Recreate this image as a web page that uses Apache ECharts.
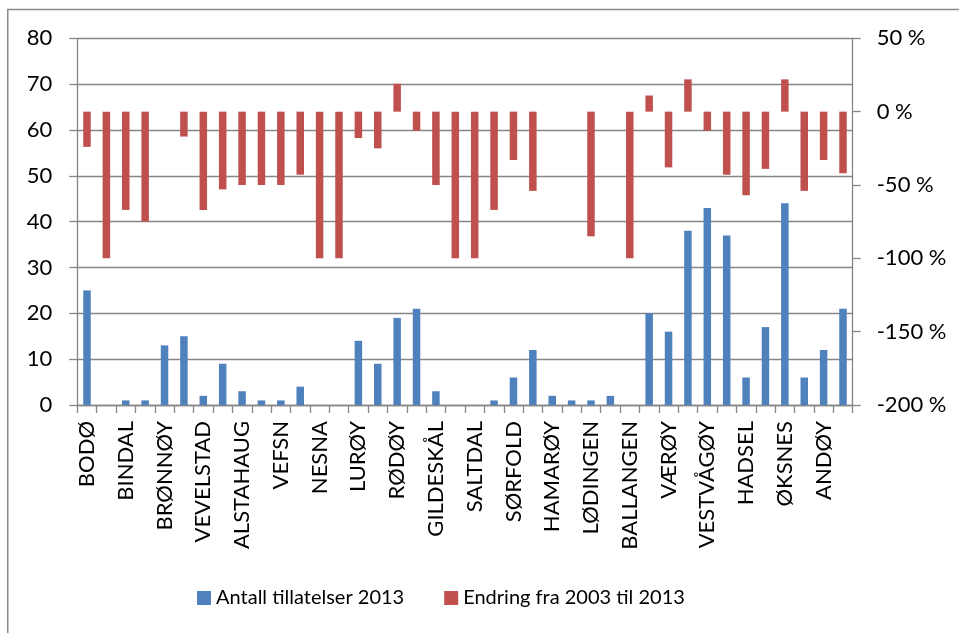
<!DOCTYPE html>
<html>
<head>
<meta charset="utf-8">
<script src="https://cdn.jsdelivr.net/npm/echarts@6/dist/echarts.min.js"></script>
<style>
  html, body { margin: 0; padding: 0; background: #fff; }
  #chart { width: 959px; height: 633px; }
</style>
</head>
<body>
<div id="chart"></div>
<script>
// Municipalities (every other name is shown on the axis)
const kommuner = [
  'BODØ', 'NARVIK', 'BINDAL', 'SØMNA', 'BRØNNØY', 'VEGA', 'VEVELSTAD', 'HERØY',
  'ALSTAHAUG', 'LEIRFJORD', 'VEFSN', 'DØNNA', 'NESNA', 'HEMNES', 'LURØY', 'TRÆNA',
  'RØDØY', 'MELØY', 'GILDESKÅL', 'BEIARN', 'SALTDAL', 'FAUSKE', 'SØRFOLD', 'STEIGEN',
  'HAMARØY', 'TYSFJORD', 'LØDINGEN', 'TJELDSUND', 'BALLANGEN', 'RØST', 'VÆRØY', 'FLAKSTAD',
  'VESTVÅGØY', 'VÅGAN', 'HADSEL', 'BØ', 'ØKSNES', 'SORTLAND', 'ANDØY', 'MOSKENES'
];

// Number of permits in 2013 (left axis)
const tillatelser2013 = [
  25, 0, 1, 1, 13, 15, 2, 9,
  3, 1, 1, 4, 0, 0, 14, 9,
  19, 21, 3, 0, 0, 1, 6, 12,
  2, 1, 1, 2, 0, 20, 16, 38,
  43, 37, 6, 17, 44, 6, 12, 21
];

// Change from 2003 to 2013 in percent (right axis)
const endring = [
  -24, -100, -67, -75, 0, -17, -67, -53,
  -50, -50, -50, -43, -100, -100, -18, -25,
  19, -13, -50, -100, -100, -67, -33, -54,
  0, 0, -85, 0, -100, 11, -38, 22,
  -13, -43, -57, -39, 22, -54, -33, -42
];

// Axis scales
const leftAxis = { min: 0, max: 80, step: 10 };
const rightAxis = { min: -200, max: 50, step: 50 };

const seriesNames = ['Antall tillatelser 2013', 'Endring fra 2003 til 2013'];

const FONT = 'Lato';
const AXIS_GREY = '#868686';

const chart = echarts.init(document.getElementById('chart'), null, { renderer: 'canvas' });

chart.setOption({
  animation: false,
  backgroundColor: '#ffffff',
  textStyle: { fontFamily: FONT, color: '#000' },
  graphic: [{
    type: 'rect',
    silent: true,
    shape: { x: 7.75, y: 9.5, width: 1000, height: 700 },
    style: { fill: 'none', stroke: '#8a8a8a', lineWidth: 1.5 }
  }],
  grid: { left: 77.3, right: 106.3, top: 38.3, bottom: 228, containLabel: false },
  legend: {
    data: seriesNames,
    left: 197,
    top: 588,
    padding: 0,
    itemWidth: 14,
    itemHeight: 14,
    itemGap: 40,
    icon: 'rect',
    textStyle: { fontFamily: FONT, fontSize: 20, color: '#000' }
  },
  xAxis: {
    type: 'category',
    data: kommuner,
    boundaryGap: true,
    axisLine: { lineStyle: { color: AXIS_GREY, width: 1.3 } },
    axisTick: { show: true, interval: 0, length: 8, lineStyle: { color: AXIS_GREY, width: 1.3 } },
    axisLabel: {
      interval: 1,
      rotate: 90,
      margin: 16,
      fontFamily: FONT,
      fontSize: 22,
      color: '#000'
    },
    splitLine: { show: false }
  },
  yAxis: [
    {
      type: 'value',
      position: 'left',
      min: leftAxis.min,
      max: leftAxis.max,
      interval: leftAxis.step,
      axisLine: { show: true, lineStyle: { color: AXIS_GREY, width: 1.3 } },
      axisTick: { show: true, length: 8, lineStyle: { color: AXIS_GREY, width: 1.3 } },
      axisLabel: { margin: 25, fontFamily: FONT, fontSize: 22, color: '#000' },
      splitLine: { show: true, lineStyle: { color: AXIS_GREY, width: 1.3 } }
    },
    {
      type: 'value',
      position: 'right',
      min: rightAxis.min,
      max: rightAxis.max,
      interval: rightAxis.step,
      axisLine: { show: true, lineStyle: { color: AXIS_GREY, width: 1.3 } },
      axisTick: { show: true, length: 8, lineStyle: { color: AXIS_GREY, width: 1.3 } },
      axisLabel: {
        margin: 24,
        fontFamily: FONT,
        fontSize: 22,
        color: '#000',
        formatter: v => v + ' %'
      },
      splitLine: { show: false }
    }
  ],
  series: [
    {
      name: seriesNames[0],
      type: 'bar',
      xAxisIndex: 0,
      yAxisIndex: 0,
      data: tillatelser2013,
      barWidth: 7.5,
      barGap: '-100%',
      itemStyle: { color: '#4F81BD' },
      z: 3
    },
    {
      name: seriesNames[1],
      type: 'bar',
      xAxisIndex: 0,
      yAxisIndex: 1,
      data: endring,
      barWidth: 7.5,
      barGap: '-100%',
      itemStyle: { color: '#C0504D' },
      z: 2
    }
  ]
});
</script>
</body>
</html>
